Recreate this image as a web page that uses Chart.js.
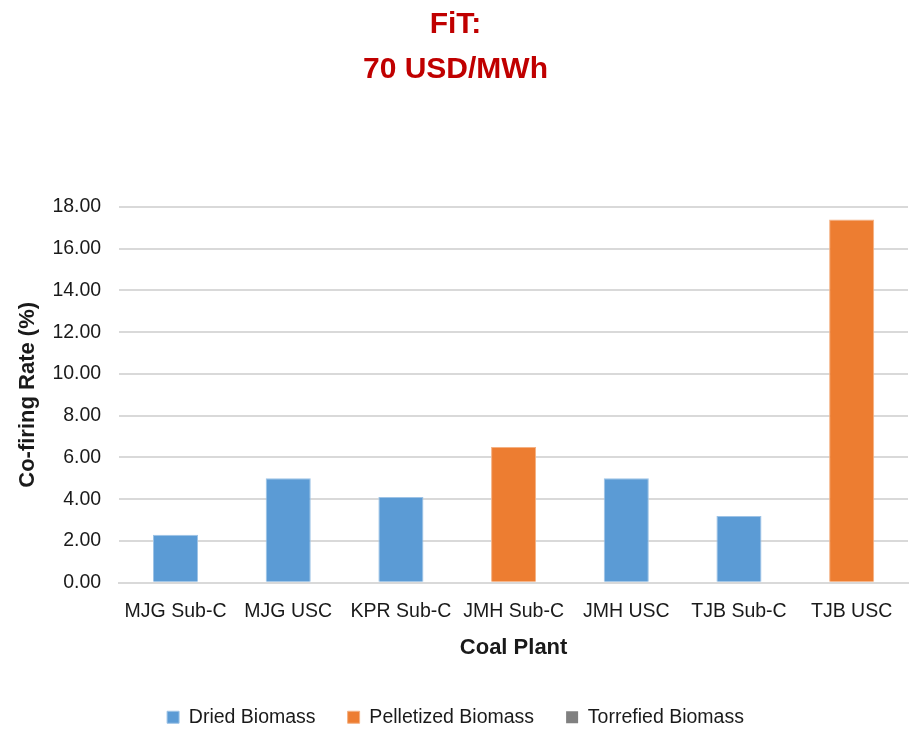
<!DOCTYPE html>
<html>
<head>
<meta charset="utf-8">
<script src="https://cdn.jsdelivr.net/npm/chart.js@4.4.1/dist/chart.umd.min.js"></script>
<style>
  html, body { margin: 0; padding: 0; background: #ffffff; }
  #wrap { width: 911px; height: 735px; }
</style>
</head>
<body>
<div id="wrap"><canvas id="chart" width="911" height="735"></canvas></div>
<script>
// Co-firing rate per coal plant under a 70 USD/MWh feed-in tariff
const plants = ['MJG Sub-C', 'MJG USC', 'KPR Sub-C', 'JMH Sub-C', 'JMH USC', 'TJB Sub-C', 'TJB USC'];
const driedBiomass      = [2.3, 5.0, 4.1, null, 5.0, 3.2, null];
const pelletizedBiomass = [null, null, null, 6.5, null, null, 17.4];
const torrefiedBiomass  = [null, null, null, null, null, null, null];
const yTicks = [0, 2, 4, 6, 8, 10, 12, 14, 16, 18];

const FONT = '"Liberation Sans", Arial, sans-serif';
const TEXT = '#1a1a1a';

new Chart(document.getElementById('chart'), {
  type: 'bar',
  data: {
    labels: plants,
    datasets: [
      { label: 'Dried Biomass', data: driedBiomass, backgroundColor: '#5b9bd5', borderColor: '#9dc3e6', borderWidth: 1 },
      { label: 'Pelletized Biomass', data: pelletizedBiomass, backgroundColor: '#ed7d31', borderColor: '#f4b183', borderWidth: 1 },
      { label: 'Torrefied Biomass', data: torrefiedBiomass, backgroundColor: '#808080', borderColor: '#808080', borderWidth: 0 }
    ]
  },
  options: {
    responsive: false,
    animation: false,
    layout: { padding: { left: 3, right: 3, top: 2, bottom: -2 } },
    datasets: { bar: { categoryPercentage: 0.4, barPercentage: 1.0 } },
    plugins: {
      title: {
        display: true,
        text: ['FiT:', '70 USD/MWh'],
        color: '#c00000',
        font: { family: FONT, size: 30, weight: 'bold', lineHeight: 1.5 },
        padding: { top: 0, bottom: 115 }
      },
      legend: {
        position: 'bottom',
        labels: {
          color: TEXT,
          boxWidth: 12,
          boxHeight: 12,
          padding: 32,
          font: { family: FONT, size: 19.5 }
        }
      },
      tooltip: { enabled: false }
    },
    scales: {
      x: {
        stacked: true,
        grid: { display: false, drawTicks: false },
        border: { display: true, color: '#d9d9d9', width: 2 },
        ticks: { color: TEXT, font: { family: FONT, size: 19.5 }, padding: 17, maxRotation: 0, autoSkip: false },
        title: { display: true, text: 'Coal Plant', color: TEXT, font: { family: FONT, size: 22, weight: 'bold' }, padding: { top: -5, bottom: 14 } }
      },
      y: {
        stacked: true,
        min: 0,
        max: 18,
        afterBuildTicks: (axis) => { axis.ticks = yTicks.map(v => ({ value: v })); },
        grid: { color: '#d9d9d9', lineWidth: 2, drawTicks: false },
        border: { display: false },
        ticks: {
          color: TEXT,
          font: { family: FONT, size: 19.5 },
          padding: 18,
          callback: (v) => Number(v).toFixed(2)
        },
        title: { display: true, text: 'Co-firing Rate (%)', color: TEXT, font: { family: FONT, size: 22, weight: 'bold' }, padding: { top: 12, bottom: -7 } }
      }
    }
  }
});
</script>
</body>
</html>
